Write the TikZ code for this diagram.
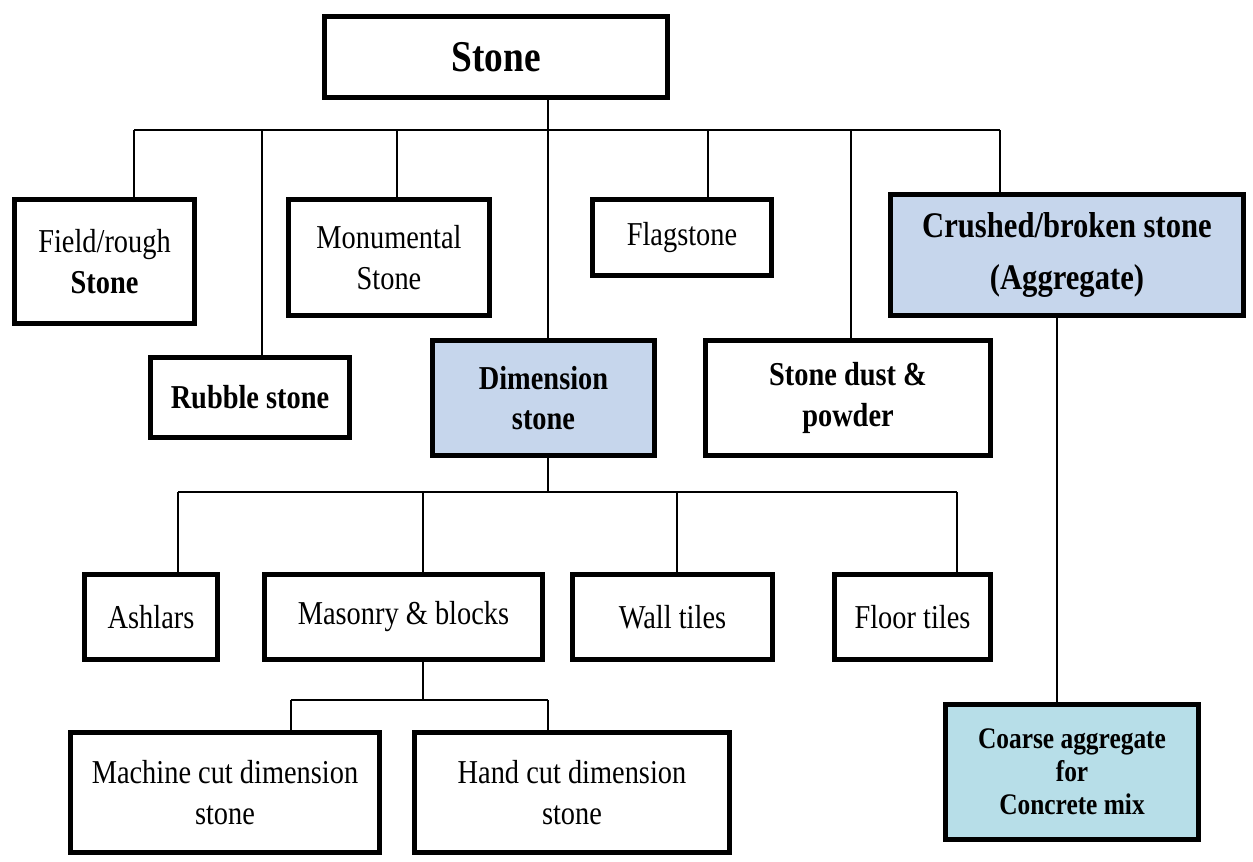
\documentclass[tikz,border=0pt]{standalone}
\usepackage{fontspec}
\setmainfont{Liberation Serif}[FakeStretch=0.85]
\usetikzlibrary{positioning}
\definecolor{dimfill}{HTML}{C6D6EC}
\definecolor{aggfill}{HTML}{B7DEE8}

\begin{document}
\begin{tikzpicture}[
  font=\fontsize{19}{23}\selectfont,
  box/.style={draw, line width=2.6pt, align=center, inner sep=2pt, fill=white},
  hl/.style={box, fill=dimfill, font=\fontsize{19}{23}\selectfont\bfseries},
  conn/.style={line width=1.5pt},
  thinconn/.style={line width=0.9pt},
]
\useasboundingbox (0,0) rectangle (25.06,-17.22);
% top level
\node[box, minimum width=6.86cm, minimum height=1.62cm, font=\fontsize{25}{28}\selectfont\bfseries] (stone) at (9.92,-1.14) {Stone};
\node[box, minimum width=3.60cm, minimum height=2.48cm] (field) at (2.09,-5.23) {Field/rough\\\textbf{Stone}};
\node[box, minimum width=3.98cm, minimum height=1.60cm, font=\fontsize{19}{23}\selectfont\bfseries] (rubble) at (5.00,-7.95) {Rubble stone};
\node[box, minimum width=4.02cm, minimum height=2.32cm] (monu) at (7.78,-5.15) {Monumental\\Stone};
\node[hl, minimum width=4.44cm, minimum height=2.30cm] (dim) at (10.87,-7.96) {Dimension\\stone};
\node[box, minimum width=3.58cm, minimum height=1.52cm] (flag) at (13.64,-4.75) {Flagstone};
\node[box, minimum width=5.70cm, minimum height=2.30cm, font=\fontsize{19}{23}\selectfont\bfseries] (dust) at (16.96,-7.96) {Stone dust \&\\powder};
\node[hl, minimum width=7.06cm, minimum height=2.42cm, font=\fontsize{20.5}{30}\selectfont\bfseries] (crush) at (21.34,-5.10) {Crushed/broken stone\\(Aggregate)};
\node[box, fill=aggfill, minimum width=5.06cm, minimum height=2.70cm, font=\fontsize{17}{18.7}\selectfont\bfseries] (coarse) at (21.44,-15.44) {Coarse aggregate\\for\\Concrete mix};
% dimension stone products
\node[box, minimum width=2.66cm, minimum height=1.70cm] (ashlar) at (3.02,-12.34) {Ashlars};
\node[box, minimum width=5.56cm, minimum height=1.70cm] (mason) at (8.07,-12.34) {Masonry \& blocks};
\node[box, minimum width=4.00cm, minimum height=1.70cm] (wall) at (13.45,-12.34) {Wall tiles};
\node[box, minimum width=3.12cm, minimum height=1.70cm] (floor) at (18.25,-12.34) {Floor tiles};
\node[box, minimum width=6.18cm, minimum height=2.40cm] (machine) at (4.50,-15.85) {Machine cut dimension\\stone};
\node[box, minimum width=6.30cm, minimum height=2.40cm] (hand) at (11.44,-15.85) {Hand cut dimension\\stone};
% connectors, level 1
\foreach \n/\x in {field/2.68, rubble/5.24, monu/7.94, dim/10.96, flag/14.16, dust/17.02, crush/20.00}
  \coordinate (t-\n) at (\x,-2.6);
\draw[conn] (t-field) -- (t-crush);
\foreach \n in {field,rubble,monu,dim,flag,dust}
  \draw[conn] (t-\n) -- (t-\n |- \n.north);
\draw[thinconn] (t-crush) -- (t-crush |- crush.north);
\draw[thinconn] (t-dim |- stone.south) -- (t-dim);
% connectors, level 2
\foreach \n/\x in {ashlar/3.56, mason/8.46, wall/13.54, floor/19.14}
  \coordinate (u-\n) at (\x,-9.84);
\draw[conn] (u-ashlar) -- (u-floor);
\draw[conn] (t-dim |- dim.south) -- (t-dim |- u-ashlar);
\foreach \n in {ashlar,mason,wall,floor}
  \draw[conn] (u-\n) -- (u-\n |- \n.north);
% connectors, level 3
\coordinate (v-machine) at (5.82,-14.0);
\coordinate (v-hand) at (10.96,-14.0);
\draw[conn] (v-machine) -- (v-hand);
\draw[conn] (u-mason |- mason.south) -- (u-mason |- v-machine);
\draw[thinconn] (v-machine) -- (v-machine |- machine.north);
\draw[thinconn] (v-hand) -- (v-hand |- hand.north);
% aggregate branch
\coordinate (w-agg) at (21.14,-9.0);
\draw[conn] (w-agg |- crush.south) -- (w-agg |- coarse.north);
\end{tikzpicture}
\end{document}
